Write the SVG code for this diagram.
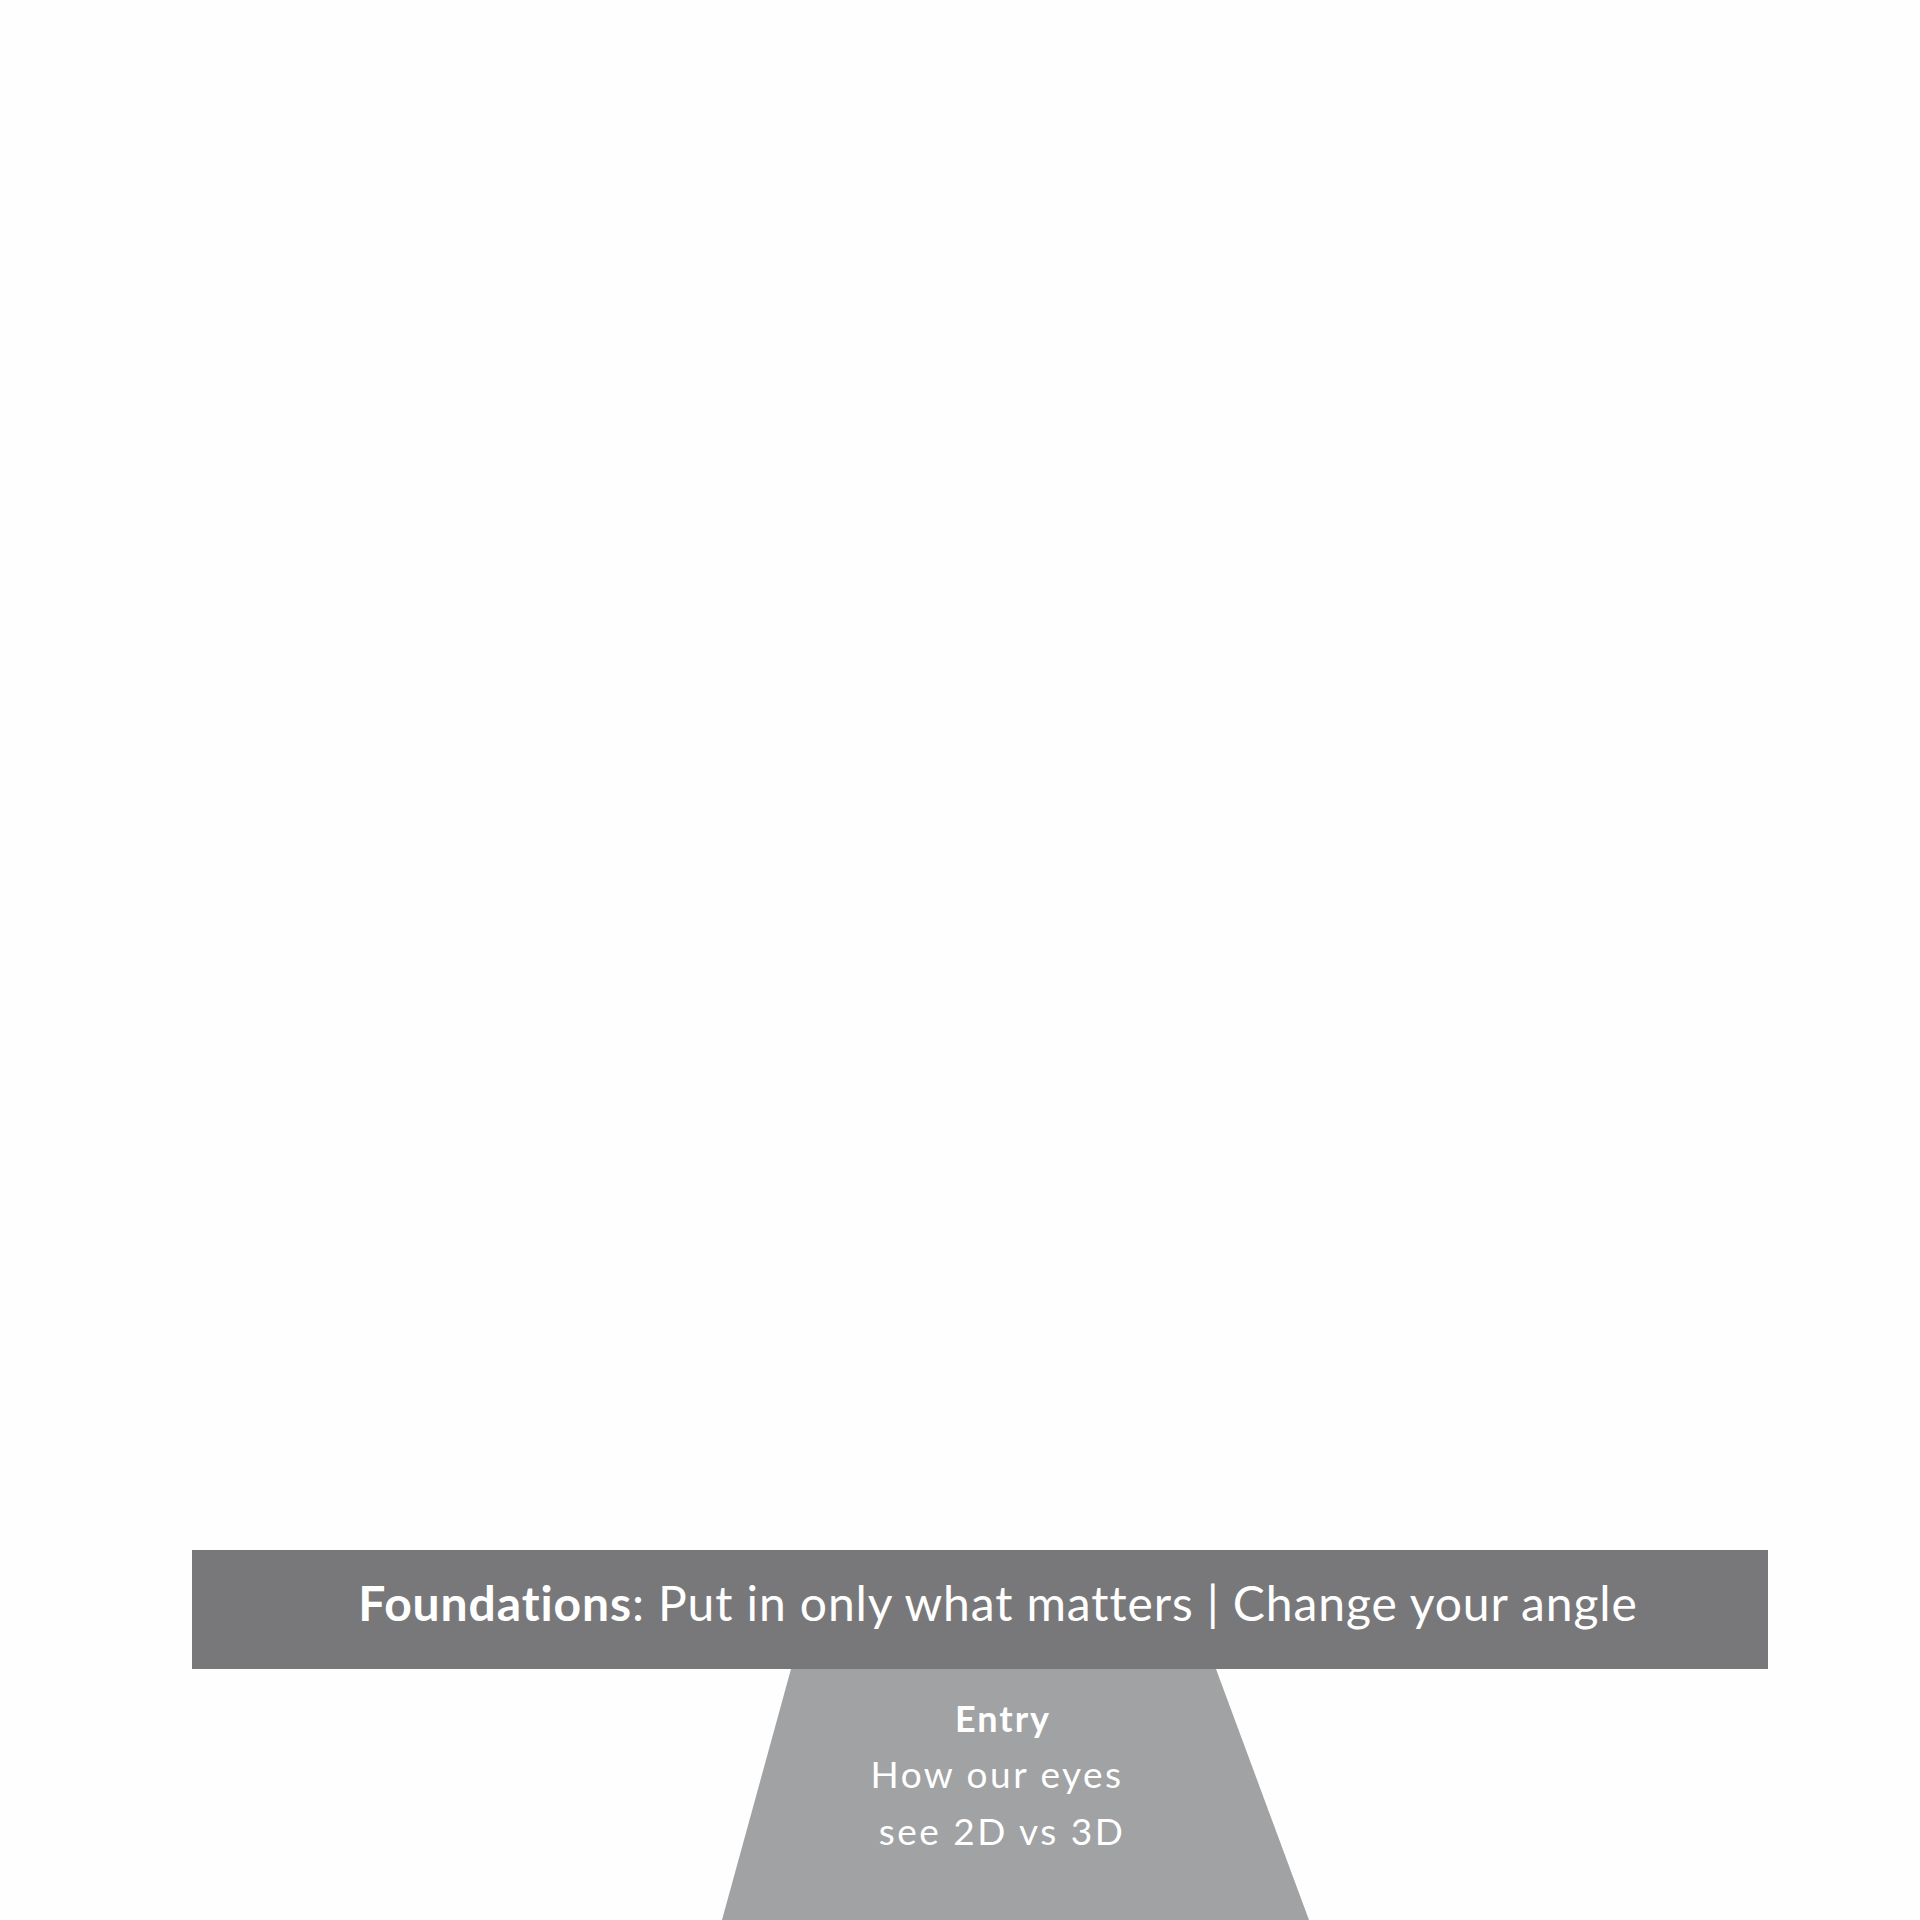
<svg xmlns="http://www.w3.org/2000/svg" width="1920" height="1920" viewBox="0 0 1920 1920">
<style>
.t{font-family:Lato,"Liberation Sans",sans-serif;fill:#ffffff;text-anchor:middle}
.b{font-weight:bold}
</style>
<rect x="0" y="0" width="1920" height="1920" fill="#fefefe"/>
<g id="entry">
<polygon points="791,1669 1216,1669 1309,1920 722,1920" fill="#a1a2a4"/>
<text class="t b" x="1003" y="1732" font-size="36" letter-spacing="2">Entry</text>
<text class="t" x="997" y="1788" font-size="37" letter-spacing="2.5">How our eyes</text>
<text class="t" x="1002" y="1845" font-size="37" letter-spacing="2.5">see 2D vs 3D</text>
</g>
<g id="foundations">
<rect x="192" y="1550" width="1576" height="119" fill="#78787a"/>
<text class="t" x="998" y="1621" font-size="48" letter-spacing="0.9"><tspan class="b">Foundations</tspan>: Put in only what matters | Change your angle</text>
</g>
<g id="connectors"/>
</svg>
